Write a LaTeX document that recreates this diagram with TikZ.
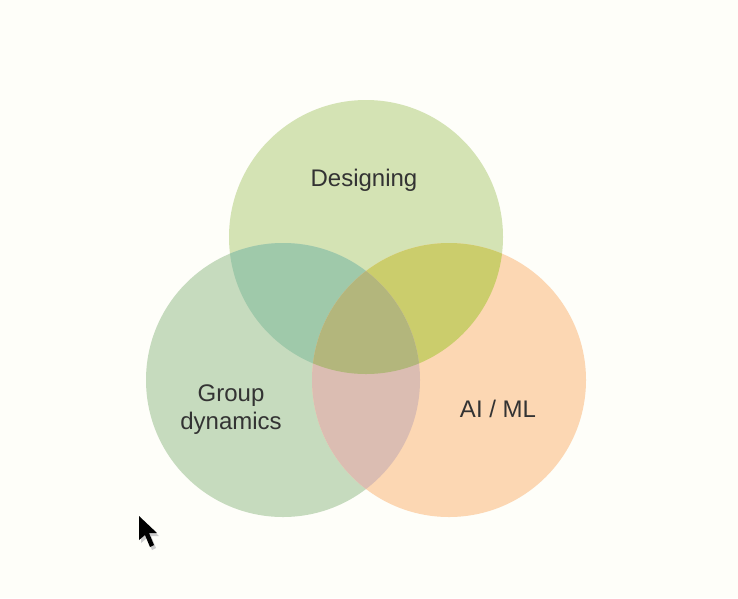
\documentclass[tikz,border=0pt]{standalone}
\usepackage{fontspec}
\setmainfont{Liberation Sans}
\definecolor{bg}{HTML}{FEFEF9}
\definecolor{cD}{HTML}{D4E3B4}
\definecolor{cG}{HTML}{C6DBBE}
\definecolor{cA}{HTML}{FCD7B3}
\definecolor{cDG}{HTML}{9FC9AA}
\definecolor{cDA}{HTML}{CBCD6C}
\definecolor{cGA}{HTML}{DBBDB2}
\definecolor{cDGA}{HTML}{B3B67C}
\definecolor{txt}{HTML}{333333}
\tikzset{label text/.style={font=\fontsize{24}{28}\selectfont, text=txt, align=center, inner sep=0pt}}
\begin{document}
\begin{tikzpicture}[x=1pt,y=-1pt]
\useasboundingbox (0,0) rectangle (738,598);
\fill[bg] (0,0) rectangle (738,598);
\def\cD{(366,237) circle (137pt)}
\def\cG{(283,380) circle (137pt)}
\def\cA{(449,380) circle (137pt)}
\fill[cD] \cD;
\fill[cG] \cG;
\fill[cA] \cA;
\begin{scope}\clip \cD; \fill[cDG] \cG; \end{scope}
\begin{scope}\clip \cD; \fill[cDA] \cA; \end{scope}
\begin{scope}\clip \cG; \fill[cGA] \cA; \end{scope}
\begin{scope}\clip \cD; \clip \cG; \fill[cDGA] \cA; \end{scope}
\node[label text] (design) at (364,180) {Designing};
\node[label text] (group) at (231,410) {Group\\dynamics};
\node[label text] (aiml) at (498,409) {AI / ML};
% mouse pointer
\fill[gray!40] (141,519) -- (141,543) -- (147,538) -- (152,550) -- (156,548) -- (151,536) -- (159,536) -- cycle;
\fill[black] (139,516) -- (139,540) -- (145,535) -- (150,547) -- (154,545) -- (149,533) -- (157,533) -- cycle;
\end{tikzpicture}
\end{document}
